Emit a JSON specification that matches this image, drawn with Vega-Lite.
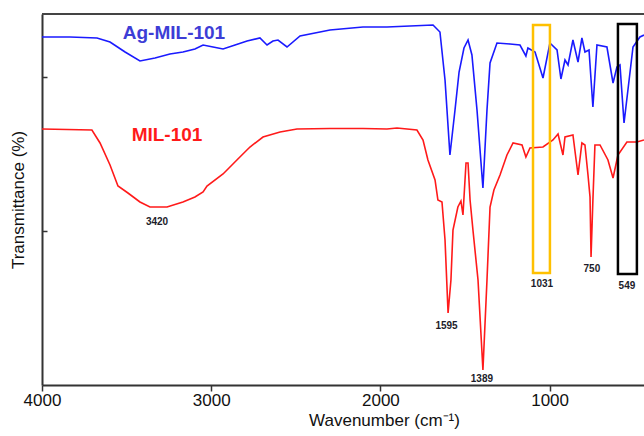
{
  "$schema": "https://vega.github.io/schema/vega-lite/v6.json",
  "width": 602,
  "height": 371,
  "autosize": {"type": "none"},
  "padding": {"left": 42, "top": 14, "right": 0, "bottom": 51},
  "background": "white",
  "config": {"font": "Liberation Sans", "view": {"stroke": null}},
  "datasets": {
    "spectra": [
      {"s": "Ag-MIL-101", "wn": 4000, "T": 348},
      {"s": "Ag-MIL-101", "wn": 3835, "T": 348},
      {"s": "Ag-MIL-101", "wn": 3675, "T": 347},
      {"s": "Ag-MIL-101", "wn": 3598, "T": 343},
      {"s": "Ag-MIL-101", "wn": 3509, "T": 333},
      {"s": "Ag-MIL-101", "wn": 3421, "T": 324},
      {"s": "Ag-MIL-101", "wn": 3332, "T": 327},
      {"s": "Ag-MIL-101", "wn": 3244, "T": 331},
      {"s": "Ag-MIL-101", "wn": 3167, "T": 333},
      {"s": "Ag-MIL-101", "wn": 3096, "T": 336},
      {"s": "Ag-MIL-101", "wn": 3048, "T": 340},
      {"s": "Ag-MIL-101", "wn": 2989, "T": 338},
      {"s": "Ag-MIL-101", "wn": 2930, "T": 336},
      {"s": "Ag-MIL-101", "wn": 2859, "T": 340},
      {"s": "Ag-MIL-101", "wn": 2788, "T": 344},
      {"s": "Ag-MIL-101", "wn": 2712, "T": 347},
      {"s": "Ag-MIL-101", "wn": 2670, "T": 340},
      {"s": "Ag-MIL-101", "wn": 2635, "T": 344},
      {"s": "Ag-MIL-101", "wn": 2605, "T": 345},
      {"s": "Ag-MIL-101", "wn": 2552, "T": 338},
      {"s": "Ag-MIL-101", "wn": 2475, "T": 349},
      {"s": "Ag-MIL-101", "wn": 2298, "T": 355},
      {"s": "Ag-MIL-101", "wn": 2103, "T": 358},
      {"s": "Ag-MIL-101", "wn": 1961, "T": 358},
      {"s": "Ag-MIL-101", "wn": 1825, "T": 359},
      {"s": "Ag-MIL-101", "wn": 1689, "T": 360},
      {"s": "Ag-MIL-101", "wn": 1648, "T": 353},
      {"s": "Ag-MIL-101", "wn": 1618, "T": 305},
      {"s": "Ag-MIL-101", "wn": 1589, "T": 230},
      {"s": "Ag-MIL-101", "wn": 1559, "T": 275},
      {"s": "Ag-MIL-101", "wn": 1535, "T": 313},
      {"s": "Ag-MIL-101", "wn": 1506, "T": 337},
      {"s": "Ag-MIL-101", "wn": 1482, "T": 345},
      {"s": "Ag-MIL-101", "wn": 1459, "T": 330},
      {"s": "Ag-MIL-101", "wn": 1429, "T": 275},
      {"s": "Ag-MIL-101", "wn": 1394, "T": 197},
      {"s": "Ag-MIL-101", "wn": 1370, "T": 275},
      {"s": "Ag-MIL-101", "wn": 1352, "T": 322},
      {"s": "Ag-MIL-101", "wn": 1311, "T": 342},
      {"s": "Ag-MIL-101", "wn": 1234, "T": 341},
      {"s": "Ag-MIL-101", "wn": 1175, "T": 340},
      {"s": "Ag-MIL-101", "wn": 1140, "T": 329},
      {"s": "Ag-MIL-101", "wn": 1128, "T": 337},
      {"s": "Ag-MIL-101", "wn": 1086, "T": 333},
      {"s": "Ag-MIL-101", "wn": 1039, "T": 307},
      {"s": "Ag-MIL-101", "wn": 998, "T": 342},
      {"s": "Ag-MIL-101", "wn": 956, "T": 335},
      {"s": "Ag-MIL-101", "wn": 933, "T": 306},
      {"s": "Ag-MIL-101", "wn": 909, "T": 325},
      {"s": "Ag-MIL-101", "wn": 891, "T": 320},
      {"s": "Ag-MIL-101", "wn": 862, "T": 345},
      {"s": "Ag-MIL-101", "wn": 832, "T": 323},
      {"s": "Ag-MIL-101", "wn": 809, "T": 347},
      {"s": "Ag-MIL-101", "wn": 791, "T": 333},
      {"s": "Ag-MIL-101", "wn": 767, "T": 335},
      {"s": "Ag-MIL-101", "wn": 744, "T": 278},
      {"s": "Ag-MIL-101", "wn": 720, "T": 340},
      {"s": "Ag-MIL-101", "wn": 661, "T": 338},
      {"s": "Ag-MIL-101", "wn": 625, "T": 302},
      {"s": "Ag-MIL-101", "wn": 602, "T": 318},
      {"s": "Ag-MIL-101", "wn": 584, "T": 320},
      {"s": "Ag-MIL-101", "wn": 560, "T": 262},
      {"s": "Ag-MIL-101", "wn": 507, "T": 338},
      {"s": "Ag-MIL-101", "wn": 466, "T": 348},
      {"s": "Ag-MIL-101", "wn": 442, "T": 350},
      {"s": "MIL-101", "wn": 4000, "T": 256},
      {"s": "MIL-101", "wn": 3705, "T": 255},
      {"s": "MIL-101", "wn": 3657, "T": 242},
      {"s": "MIL-101", "wn": 3598, "T": 220},
      {"s": "MIL-101", "wn": 3551, "T": 199},
      {"s": "MIL-101", "wn": 3492, "T": 192},
      {"s": "MIL-101", "wn": 3421, "T": 183},
      {"s": "MIL-101", "wn": 3362, "T": 178},
      {"s": "MIL-101", "wn": 3261, "T": 178},
      {"s": "MIL-101", "wn": 3167, "T": 183},
      {"s": "MIL-101", "wn": 3096, "T": 188},
      {"s": "MIL-101", "wn": 3048, "T": 193},
      {"s": "MIL-101", "wn": 3025, "T": 199},
      {"s": "MIL-101", "wn": 2930, "T": 211},
      {"s": "MIL-101", "wn": 2848, "T": 225},
      {"s": "MIL-101", "wn": 2771, "T": 238},
      {"s": "MIL-101", "wn": 2694, "T": 248},
      {"s": "MIL-101", "wn": 2593, "T": 253},
      {"s": "MIL-101", "wn": 2493, "T": 256},
      {"s": "MIL-101", "wn": 2298, "T": 256.5},
      {"s": "MIL-101", "wn": 2103, "T": 256.5},
      {"s": "MIL-101", "wn": 1961, "T": 256},
      {"s": "MIL-101", "wn": 1902, "T": 257},
      {"s": "MIL-101", "wn": 1784, "T": 255},
      {"s": "MIL-101", "wn": 1748, "T": 245},
      {"s": "MIL-101", "wn": 1719, "T": 225},
      {"s": "MIL-101", "wn": 1677, "T": 205},
      {"s": "MIL-101", "wn": 1660, "T": 185},
      {"s": "MIL-101", "wn": 1636, "T": 183},
      {"s": "MIL-101", "wn": 1618, "T": 145},
      {"s": "MIL-101", "wn": 1600, "T": 72},
      {"s": "MIL-101", "wn": 1583, "T": 105},
      {"s": "MIL-101", "wn": 1571, "T": 155},
      {"s": "MIL-101", "wn": 1542, "T": 178},
      {"s": "MIL-101", "wn": 1524, "T": 184},
      {"s": "MIL-101", "wn": 1512, "T": 170},
      {"s": "MIL-101", "wn": 1494, "T": 222},
      {"s": "MIL-101", "wn": 1482, "T": 222},
      {"s": "MIL-101", "wn": 1470, "T": 185},
      {"s": "MIL-101", "wn": 1453, "T": 155},
      {"s": "MIL-101", "wn": 1423, "T": 105},
      {"s": "MIL-101", "wn": 1394, "T": 15},
      {"s": "MIL-101", "wn": 1370, "T": 105},
      {"s": "MIL-101", "wn": 1352, "T": 178},
      {"s": "MIL-101", "wn": 1329, "T": 195},
      {"s": "MIL-101", "wn": 1293, "T": 210},
      {"s": "MIL-101", "wn": 1252, "T": 230},
      {"s": "MIL-101", "wn": 1216, "T": 242},
      {"s": "MIL-101", "wn": 1163, "T": 240},
      {"s": "MIL-101", "wn": 1140, "T": 228},
      {"s": "MIL-101", "wn": 1116, "T": 237},
      {"s": "MIL-101", "wn": 1039, "T": 238},
      {"s": "MIL-101", "wn": 980, "T": 245},
      {"s": "MIL-101", "wn": 950, "T": 251},
      {"s": "MIL-101", "wn": 921, "T": 230},
      {"s": "MIL-101", "wn": 909, "T": 248},
      {"s": "MIL-101", "wn": 862, "T": 250},
      {"s": "MIL-101", "wn": 832, "T": 210},
      {"s": "MIL-101", "wn": 809, "T": 242},
      {"s": "MIL-101", "wn": 791, "T": 240},
      {"s": "MIL-101", "wn": 773, "T": 210},
      {"s": "MIL-101", "wn": 761, "T": 188},
      {"s": "MIL-101", "wn": 755, "T": 128},
      {"s": "MIL-101", "wn": 744, "T": 185},
      {"s": "MIL-101", "wn": 732, "T": 240},
      {"s": "MIL-101", "wn": 702, "T": 240},
      {"s": "MIL-101", "wn": 655, "T": 225},
      {"s": "MIL-101", "wn": 625, "T": 207},
      {"s": "MIL-101", "wn": 596, "T": 230},
      {"s": "MIL-101", "wn": 543, "T": 243},
      {"s": "MIL-101", "wn": 484, "T": 243},
      {"s": "MIL-101", "wn": 442, "T": 245}
    ],
    "names": [
      {"s": "Ag-MIL-101", "wn": 3220, "T": 352},
      {"s": "MIL-101", "wn": 3261, "T": 250}
    ],
    "peaks": [
      {"label": "3420", "wn": 3320, "T": 163},
      {"label": "1595", "wn": 1609, "T": 59},
      {"label": "1389", "wn": 1400, "T": 6},
      {"label": "1031", "wn": 1045, "T": 101},
      {"label": "750", "wn": 750, "T": 116},
      {"label": "549", "wn": 543, "T": 99}
    ],
    "boxes": [
      {"box": "yellow", "x1": 1098, "x2": 998, "y1": 360, "y2": 112},
      {"box": "black", "x1": 596, "x2": 484, "y1": 361, "y2": 111}
    ]
  },
  "layer": [
    {
      "data": {"name": "spectra"},
      "mark": {"type": "line", "strokeWidth": 1.6, "clip": true},
      "encoding": {
        "x": {
          "field": "wn", "type": "quantitative",
          "scale": {"domain": [442, 4000], "reverse": true, "nice": false, "zero": false},
          "axis": {
            "values": [4000, 3000, 2000, 1000],
            "format": "d",
            "grid": false,
            "domainColor": "#333333",
            "domainWidth": 2,
            "tickColor": "#333333",
            "tickWidth": 1.5,
            "tickSize": 6,
            "labelFontSize": 17,
            "labelColor": "#111111",
            "labelPadding": 1,
            "labelFlush": false,
            "title": "Wavenumber (cm⁻¹)",
            "titleFontSize": 17,
            "titleFontWeight": "normal",
            "titleColor": "#111111",
            "titleX": 342,
            "titleY": 40,
            "titleBaseline": "alphabetic",
            "titleAlign": "center"
          }
        },
        "y": {
          "field": "T", "type": "quantitative",
          "scale": {"domain": [0, 371], "nice": false, "zero": false},
          "axis": {
            "values": [154, 308],
            "labels": false,
            "grid": false,
            "domainColor": "#333333",
            "domainWidth": 2,
            "tickColor": "#333333",
            "tickWidth": 1.5,
            "tickSize": -5,
            "title": "Transmittance (%)",
            "titleFontSize": 17,
            "titleFontWeight": "normal",
            "titleColor": "#111111",
            "titleX": -24,
            "titleY": 185.5,
            "titleAngle": -90,
            "titleBaseline": "middle",
            "titleAlign": "center"
          }
        },
        "color": {
          "field": "s", "type": "nominal",
          "scale": {"domain": ["Ag-MIL-101", "MIL-101"], "range": ["#1a1aff", "#ff1a1a"]},
          "legend": null
        }
      }
    },
    {
      "data": {"name": "boxes"},
      "mark": {"type": "rect", "fill": null, "fillOpacity": 0, "strokeWidth": 2.5},
      "encoding": {
        "x": {"field": "x1", "type": "quantitative"},
        "x2": {"field": "x2"},
        "y": {"field": "y1", "type": "quantitative"},
        "y2": {"field": "y2"},
        "stroke": {
          "field": "box", "type": "nominal",
          "scale": {"domain": ["yellow", "black"], "range": ["#ffc000", "#000000"]},
          "legend": null
        }
      }
    },
    {
      "data": {"values": [{"top": 371}]},
      "mark": {"type": "rule", "color": "#444444", "strokeWidth": 2},
      "encoding": {"y": {"field": "top", "type": "quantitative"}}
    },
    {
      "data": {"name": "names"},
      "mark": {"type": "text", "fontSize": 19, "fontWeight": "bold", "baseline": "middle", "align": "center"},
      "encoding": {
        "x": {"field": "wn", "type": "quantitative"},
        "y": {"field": "T", "type": "quantitative"},
        "text": {"field": "s"},
        "color": {
          "field": "s", "type": "nominal",
          "scale": {"domain": ["Ag-MIL-101", "MIL-101"], "range": ["#3d3dd6", "#ff1a1a"]},
          "legend": null
        }
      }
    },
    {
      "data": {"name": "peaks"},
      "mark": {"type": "text", "fontSize": 10, "fontWeight": "bold", "baseline": "middle", "align": "center", "color": "#1c1c2a"},
      "encoding": {
        "x": {"field": "wn", "type": "quantitative"},
        "y": {"field": "T", "type": "quantitative"},
        "text": {"field": "label"}
      }
    }
  ],
  "resolve": {"scale": {"color": "independent"}}
}
